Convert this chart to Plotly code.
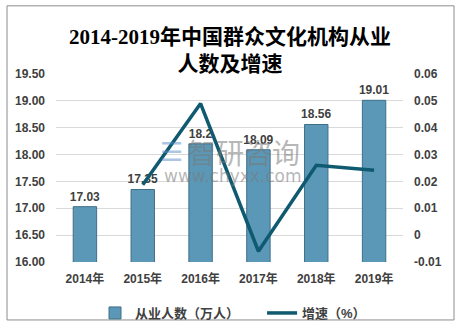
import plotly.graph_objects as go

years = ["2014年", "2015年", "2016年", "2017年", "2018年", "2019年"]
employees = [17.03, 17.35, 18.2, 18.09, 18.56, 19.01]
growth = [None, 0.0188, 0.049, -0.006, 0.026, 0.0242]
y_ticks = [16.0, 16.5, 17.0, 17.5, 18.0, 18.5, 19.0, 19.5]
y2_ticks = [-0.01, 0, 0.01, 0.02, 0.03, 0.04, 0.05, 0.06]
y2_labels = ["-0.01", "0", "0.01", "0.02", "0.03", "0.04", "0.05", "0.06"]

W, H = 458, 331
ML, MR, MT, MB = 56, 55, 74, 64
PW, PH = W - ML - MR, H - MT - MB

def px_x(x):
    return (x - ML) / PW

def px_y(y):
    return (H - MB - y) / PH

lab_font = dict(family="Liberation Sans, Noto Sans CJK SC", size=12, color="#404040", weight="bold")

fig = go.Figure()
fig.add_trace(go.Bar(
    x=years, y=employees, name="从业人数（万人）" + "\u00a0" * 5,
    marker=dict(color="#5b98b8", line=dict(color="#3f6f88", width=1)),
    texttemplate="%{y}", textposition="outside", textfont=lab_font,
    constraintext="none", cliponaxis=False,
))
fig.add_trace(go.Scatter(
    x=years, y=growth, name="增速（%）", yaxis="y2", mode="lines",
    line=dict(color="#0f5a70", width=3.5),
))

fig.update_layout(
    width=W, height=H,
    margin=dict(l=ML, r=MR, t=MT, b=MB),
    paper_bgcolor="white", plot_bgcolor="white",
    bargap=0.595,
    showlegend=True,
    title=dict(
        text="2014-2019年中国群众文化机构从业<br>人数及增速",
        x=230 / W, xref="container", xanchor="center",
        y=1 - 43.5 / H, yref="container", yanchor="middle",
        font=dict(family="Liberation Serif, Noto Sans CJK SC", size=21, color="#000000", weight="bold"),
    ),
    xaxis=dict(
        tickfont=dict(family="Liberation Sans, Noto Sans CJK SC", size=12, color="#404040", weight="bold"),
        showgrid=False, showline=False, zeroline=False, ticks="",
        ticklabelstandoff=8,
    ),
    yaxis=dict(
        range=[16, 19.5], tickvals=y_ticks, ticktext=[f"{v:.2f}" for v in y_ticks],
        tickfont=lab_font, showgrid=True, gridcolor="#d9d9d9", gridwidth=1,
        zeroline=False, showline=False, ticks="", ticklabelstandoff=10,
    ),
    yaxis2=dict(
        range=[-0.01, 0.06], tickvals=y2_ticks, ticktext=y2_labels, overlaying="y", side="right",
        tickfont=lab_font, showgrid=False, zeroline=False, showline=False, ticks="",
        ticklabelstandoff=10,
    ),
    legend=dict(
        orientation="h", x=233 / W, xref="container", xanchor="center",
        y=1 - 313 / H, yref="container", yanchor="middle",
        font=dict(family="Liberation Sans, Noto Sans CJK SC", size=13, color="#404040", weight="bold"),
        itemwidth=30, bgcolor="rgba(0,0,0,0)",
    ),
    shapes=[dict(
        type="rect", xref="paper", yref="paper",
        x0=px_x(7), x1=px_x(454), y0=px_y(326.5), y1=px_y(4),
        line=dict(color="#8c8c8c", width=1), fillcolor="rgba(0,0,0,0)", layer="below",
    )],
    annotations=[
        dict(text="智研咨询", xref="paper", yref="paper", x=px_x(186), y=px_y(154),
             xanchor="left", yanchor="middle", showarrow=False,
             font=dict(family="Noto Sans CJK SC", size=28, color="rgba(120,120,120,0.55)")),
        dict(text="☰", xref="paper", yref="paper", x=px_x(158), y=px_y(154),
             xanchor="left", yanchor="middle", showarrow=False,
             font=dict(family="DejaVu Sans", size=26, color="rgba(90,140,200,0.5)")),
        dict(text="www.chyxx.com", xref="paper", yref="paper", x=px_x(162), y=px_y(179),
             xanchor="left", yanchor="middle", showarrow=False,
             font=dict(family="DejaVu Sans", size=17, color="rgba(120,120,120,0.55)")),
    ],
)

fig.write_html("out.html")
